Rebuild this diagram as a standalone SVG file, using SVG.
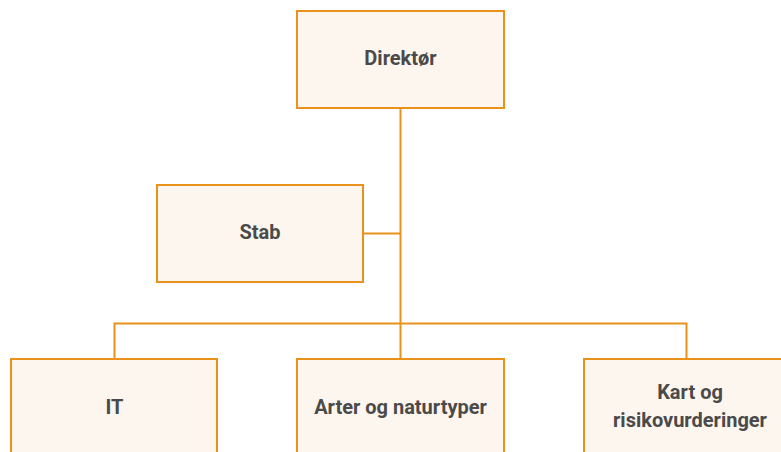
<svg xmlns="http://www.w3.org/2000/svg" width="781" height="452" viewBox="0 0 781 452">
<style>
.box{fill:#FDF6EF;stroke:#E8921C;stroke-width:2}
.lbl{font-family:Roboto,"Liberation Sans",sans-serif;font-weight:bold;font-size:20px;fill:#4A4A4A;text-anchor:middle;dominant-baseline:central}
.con{fill:none;stroke:#E8921C;stroke-width:2}
</style>
<rect width="781" height="452" fill="#FFFFFF"/>
<g id="connectors">
<path class="con" d="M400.5,108 V359"/>
<path class="con" d="M363,233.5 H400.5"/>
<path class="con" d="M114.5,359 V323.5 H686.5 V359"/>
</g>
<g id="direktor"><rect class="box" x="297" y="11" width="207" height="97"/><text class="lbl" x="400.5" y="58">Direktør</text></g>
<g id="stab"><rect class="box" x="157" y="185" width="206" height="97"/><text class="lbl" x="260" y="232">Stab</text></g>
<g id="it"><rect class="box" x="11" y="359" width="206" height="97"/><text class="lbl" x="114.5" y="407">IT</text></g>
<g id="arter"><rect class="box" x="297" y="359" width="207" height="97"/><text class="lbl" x="400.5" y="407">Arter og naturtyper</text></g>
<g id="kart"><rect class="box" x="584" y="359" width="206" height="97"/><text class="lbl" x="690" y="392">Kart og</text><text class="lbl" x="690" y="420">risikovurderinger</text></g>
</svg>
